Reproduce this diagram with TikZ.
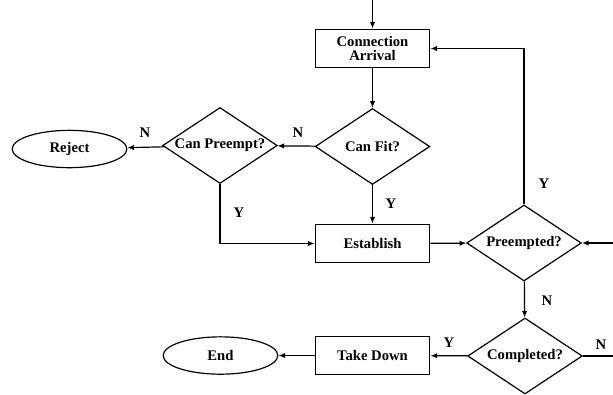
\documentclass[tikz,border=0pt]{standalone}
\usepackage{fontspec}
\setmainfont{Liberation Serif}
\usetikzlibrary{shapes.geometric,arrows.meta}

\tikzset{
  flowfont/.style={font=\fontsize{11}{11}\selectfont\bfseries},
  procbox/.style={draw,line width=0.9pt,minimum width=86pt,minimum height=29pt,inner sep=1pt,align=center,flowfont},
  decide/.style={draw,diamond,line width=0.9pt,minimum width=86pt,minimum height=57pt,inner sep=0pt,aspect=1.5,flowfont},
  termin/.style={draw,ellipse,line width=0.9pt,minimum width=86pt,minimum height=28pt,inner sep=0pt,flowfont},
  flow/.style={line width=0.9pt,-{Latex[length=5pt,width=4pt]}},
  yn/.style={inner sep=0.75pt,flowfont}
}

\begin{document}
\begin{tikzpicture}[x=0.75pt,y=0.75pt,yscale=-1,xscale=1]
    \useasboundingbox (0,0) rectangle (613,394);

    %Shapes
    \node[procbox] (arrival) at (372.5,48.5) {Connection\\Arrival};
    \node[decide] (canfit) at (372.5,146.5) {Can Fit?};
    \node[decide] (canpre) at (220,145.5) {Can Preempt?};
    \node[termin] (reject) at (69.5,149) {Reject};
    \node[procbox] (establish) at (372.5,243.5) {Establish};
    \node[decide] (preempted) at (524,243) {Preempted?};
    \node[decide] (completed) at (525,356) {Completed?};
    \node[procbox] (takedown) at (372.5,355.5) {Take Down};
    \node[termin] (finish) at (220.5,355.5) {End};

    %free ends
    \coordinate (entry) at (372.5,0);
    \coordinate (rightin) at (613,243);
    \coordinate (rightout) at (613,356);

    %Connectors
    \draw[flow] (entry) -- (arrival);
    \draw[flow] (arrival) -- (canfit);
    \draw[flow] (canfit) -- (canpre);
    \draw[flow] (canpre) -- (reject);
    \draw[flow] (canfit) -- (establish);
    \draw[flow] (canpre.south) |- (establish.west);
    \draw[flow] (establish) -- (preempted);
    \draw[flow] (rightin) -- (preempted.east);
    \draw[flow] (preempted.north) |- (arrival.east);
    \draw[flow] (preempted) -- (completed);
    \draw[flow] (completed) -- (takedown);
    \draw[flow] (takedown) -- (finish);
    \draw[line width=0.9pt] (completed.east) -- (rightout);

    % Text Node
    \node[yn] (n1) at (145,133) {N};
    \node[yn] (n2) at (298,133) {N};
    \node[yn] (y1) at (391,204) {Y};
    \node[yn] (y2) at (239,213) {Y};
    \node[yn] (y3) at (544,184) {Y};
    \node[yn] (n3) at (547,301) {N};
    \node[yn] (y4) at (449,343) {Y};
    \node[yn] (n4) at (601,345) {N};
\end{tikzpicture}
\end{document}
